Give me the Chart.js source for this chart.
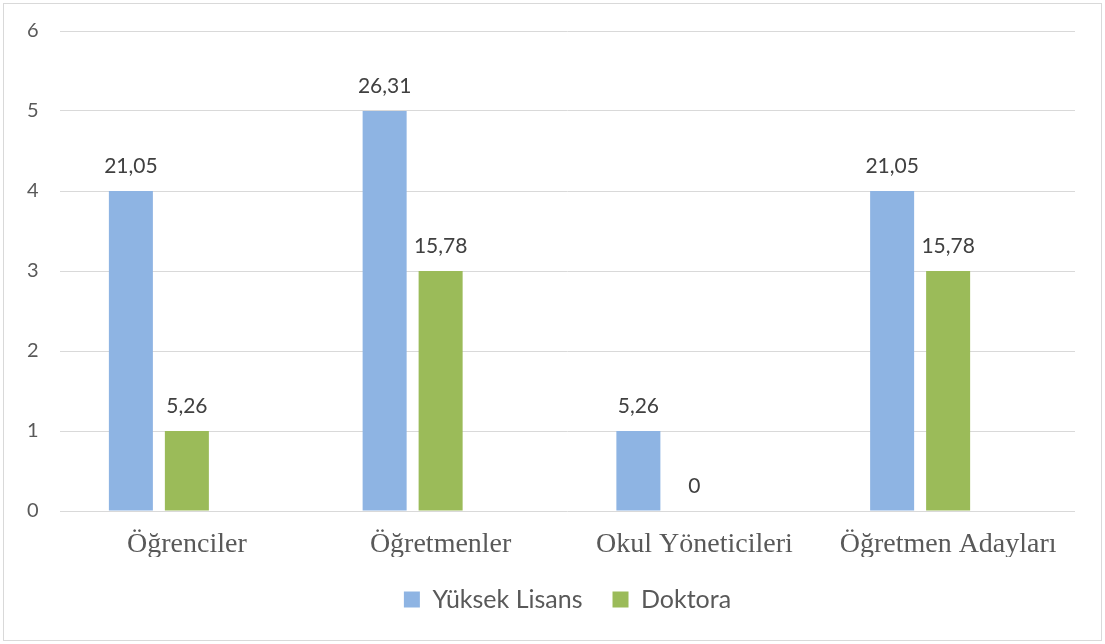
<!DOCTYPE html>
<html><head><meta charset="utf-8">
<script src="https://cdn.jsdelivr.net/npm/chart.js@4/dist/chart.umd.min.js"></script>
<style>html,body{margin:0;padding:0;background:#fff;}#wrap{position:absolute;left:0;top:0;width:1105px;height:644px;}</style>
</head><body><div id="wrap"><canvas id="c" width="1105" height="644"></canvas></div>
<script>
const categories = ['Öğrenciler', 'Öğretmenler', 'Okul Yöneticileri', 'Öğretmen Adayları'];
const seriesNames = ['Yüksek Lisans', 'Doktora'];
const yuksekLisans = [4, 5, 1, 4];
const doktora = [1, 3, 0, 3];
const spacer = [null, null, null, null];
const yuksekLisansLabels = ['21,05', '26,31', '5,26', '21,05'];
const doktoraLabels = ['5,26', '15,78', '0', '15,78'];
const yMin = 0, yMax = 6, yStep = 1;

const labelSets = [yuksekLisansLabels, doktoraLabels];

const valueLabels = {
  id: 'valueLabels',
  afterDatasetsDraw(chart) {
    const ctx = chart.ctx;
    ctx.save();
    ctx.font = '21px Lato';
    ctx.fillStyle = '#404040';
    ctx.textAlign = 'center';
    ctx.textBaseline = 'middle';
    labelSets.forEach((set, di) => {
      const meta = chart.getDatasetMeta(di);
      meta.data.forEach((el, i) => {
        ctx.fillText(set[i], el.x, el.y - 25);
      });
    });
    ctx.restore();
  }
};
const frame = {
  id: 'frame',
  beforeDraw(chart) {
    const ctx = chart.ctx;
    ctx.save();
    ctx.strokeStyle = '#d9d9d9';
    ctx.lineWidth = 1;
    ctx.strokeRect(3.5, 3.5, chart.width - 7, chart.height - 7);
    ctx.restore();
  }
};

new Chart(document.getElementById('c'), {
  type: 'bar',
  data: {
    labels: categories,
    datasets: [
      { label: seriesNames[0], data: yuksekLisans, backgroundColor: '#8eb4e3' },
      { label: seriesNames[1], data: doktora, backgroundColor: '#9bbb59' },
      { label: '', data: spacer, backgroundColor: 'rgba(0,0,0,0)' }
    ]
  },
  options: {
    responsive: false,
    animation: false,
    devicePixelRatio: 1,
    categoryPercentage: 0.662,
    barPercentage: 0.786,
    layout: { padding: { left: 27, right: 30, top: 31, bottom: 22 } },
    plugins: {
      tooltip: { enabled: false },
      legend: {
        position: 'bottom',
        fullSize: false,
        labels: {
          filter: (item) => item.datasetIndex < 2,
          boxWidth: 16, boxHeight: 16,
          padding: 30,
          color: '#595959',
          font: { family: 'Lato', size: 25 }
        }
      }
    },
    scales: {
      x: {
        grid: { display: false, drawTicks: false },
        border: { display: false },
        ticks: { color: '#595959', font: { family: "'Liberation Serif', 'Times New Roman', serif", size: 28 }, padding: 17 },
        afterFit(s) { s.height = 46; }
      },
      y: {
        min: yMin, max: yMax,
        grid: { color: '#d9d9d9', drawTicks: false },
        border: { display: false },
        ticks: { stepSize: yStep, color: '#595959', font: { family: 'Lato', size: 20 }, padding: 0, crossAlign: 'far' },
        afterFit(s) { s.width = 33; }
      }
    }
  },
  plugins: [valueLabels, frame]
});
</script>
</body></html>
